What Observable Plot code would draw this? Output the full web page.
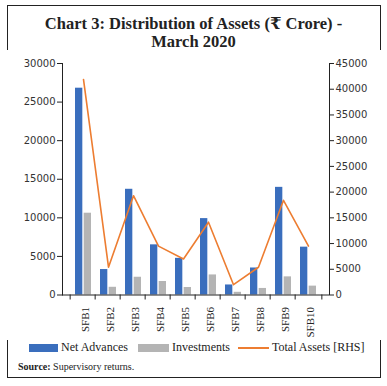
<!DOCTYPE html>
<html>
<head>
<meta charset="utf-8">
<script src="https://cdn.jsdelivr.net/npm/d3@7"></script>
<script src="https://cdn.jsdelivr.net/npm/@observablehq/plot@0.6"></script>
<style>
  html, body { margin: 0; padding: 0; background: #fff; }
  body { width: 387px; height: 386px; position: relative; overflow: hidden; }
  #box { position: absolute; left: 7px; top: 5px; width: 372px; height: 371px; border: 1px solid #222; }
  #title { position: absolute; left: 0; top: 15px; width: 387px; text-align: center;
    font-family: "Liberation Serif", "DejaVu Serif", serif; font-weight: bold; font-size: 16.5px;
    line-height: 18px; color: #222; }
  #chart { position: absolute; left: 0; top: 50px; }
  #legend { position: absolute; left: 0; top: 340px; width: 387px; font-family: "Liberation Serif", serif;
    font-size: 12px; color: #222; }
  .item { position: absolute; top: 0; white-space: nowrap; }
  .sw { position: absolute; top: 4px; height: 8px; }
  #source { position: absolute; left: 18px; top: 361px; font-family: "Liberation Serif", serif; font-size: 10px; color: #222; }
</style>
</head>
<body>
<div id="box"></div>
<div id="title">Chart 3: Distribution of Assets (₹ Crore) -<br>March 2020</div>
<div id="chart"></div>
<div id="legend"></div>
<div id="source"><b>Source:</b> Supervisory returns.</div>
<script>
const banks = ["SFB1","SFB2","SFB3","SFB4","SFB5","SFB6","SFB7","SFB8","SFB9","SFB10"];
const netAdvances = [26800, 3300, 13700, 6500, 4750, 9900, 1300, 3500, 13950, 6200];
const investments = [10600, 1000, 2300, 1750, 970, 2600, 350, 850, 2350, 1150];
const totalAssets = [41900, 5400, 19300, 9500, 7000, 14150, 2000, 5400, 18400, 9500];
const leftTicks = [0, 5000, 10000, 15000, 20000, 25000, 30000];
const rightTicks = [0, 5000, 10000, 15000, 20000, 25000, 30000, 35000, 40000, 45000];
const legendItems = ["Net Advances", "Investments", "Total Assets [RHS]"];

const colors = {adv: "#3A6EBD", inv: "#B4B4B4", tot: "#ED7D31"};
const ratio = 30000 / 45000;

const data = banks.map((b, i) => ({bank: b, adv: netAdvances[i], inv: investments[i], tot: totalAssets[i]}));

const W = 387, H = 290, mL = 62, mR = 58, mT = 13, mB = 45.5;
const bw = (W - mL - mR) / banks.length;
const padding = 0.35;
const barPair = bw * (1 - padding);
const half = barPair / 2;

const chart = Plot.plot({
  width: W, height: H,
  marginLeft: mL, marginRight: mR, marginTop: mT, marginBottom: mB,
  style: {fontFamily: "DejaVu Sans, sans-serif", fontSize: "10px", color: "#333", background: "white"},
  x: {domain: banks, padding: padding, axis: null, label: null},
  y: {domain: [0, 30000], axis: null, label: null},
  marks: [
    Plot.barY(data, {x: "bank", y: "adv", fill: colors.adv, insetRight: half}),
    Plot.barY(data, {x: "bank", y: "inv", fill: colors.inv, insetLeft: half}),
    Plot.lineY(data, {x: "bank", y: d => d.tot * ratio, stroke: colors.tot, strokeWidth: 1.6}),
    Plot.axisY({anchor: "left", ticks: leftTicks, tickSize: 5, tickPadding: 2, label: null, tickFormat: d => String(d), stroke: "#222", fill: "#333"}),
    Plot.axisY({anchor: "right", ticks: rightTicks.map(d => d * ratio), tickSize: 4, tickPadding: 2, label: null,
      tickFormat: d => String(Math.round(d / ratio)), stroke: "#222", fill: "#333"}),
    Plot.frame({anchor: "left", stroke: "#222"}),
    Plot.frame({anchor: "right", stroke: "#222"}),
    Plot.ruleY([0], {stroke: "#222"}),
    Plot.axisX({text: null, label: null, tickSize: 5, dx: -bw / 2, stroke: "#222"}),
    Plot.axisX([banks[banks.length - 1]], {text: null, label: null, tickSize: 5, dx: bw / 2, stroke: "#222"}),
    Plot.axisX({tickSize: 0, label: null, tickPadding: 12, tickRotate: -90, fontFamily: "Liberation Serif, serif", fontSize: 11, fill: "#222", dx: 1.5})
  ]
});
document.getElementById("chart").appendChild(chart);

const legend = document.getElementById("legend");
const legendLayout = [
  {sw: [29, 29], text: 61, color: colors.adv, kind: "bar"},
  {sw: [138, 31], text: 172, color: colors.inv, kind: "bar"},
  {sw: [238, 31], text: 272, color: colors.tot, kind: "line"}
];
legendItems.forEach((label, i) => {
  const L = legendLayout[i];
  const s = document.createElement("div");
  s.className = "sw";
  s.style.left = L.sw[0] + "px";
  s.style.width = L.sw[1] + "px";
  s.style.background = L.color;
  if (L.kind === "line") { s.style.top = "7px"; s.style.height = "2px"; }
  legend.appendChild(s);
  const t = document.createElement("div");
  t.className = "item";
  t.style.left = L.text + "px";
  t.textContent = label;
  legend.appendChild(t);
});
</script>
</body>
</html>
